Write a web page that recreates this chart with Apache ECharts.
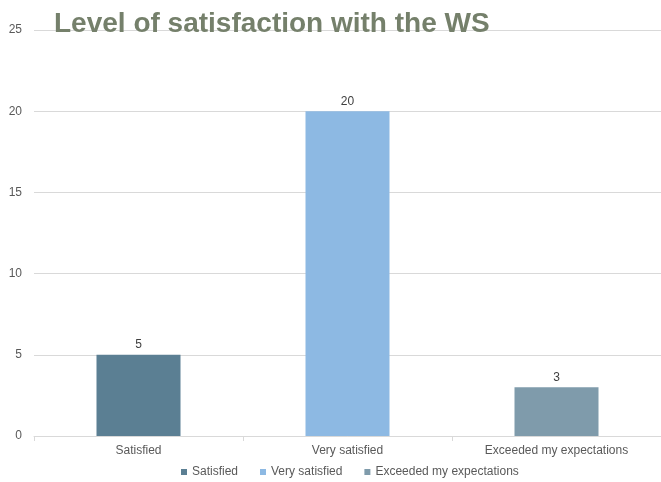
<!DOCTYPE html>
<html>
<head>
<meta charset="utf-8">
<script src="https://cdn.jsdelivr.net/npm/echarts@6/dist/echarts.min.js"></script>
<style>
  html, body { margin: 0; padding: 0; background: #fff; }
  #chart { width: 661px; height: 482px; }
</style>
</head>
<body>
<div id="chart"></div>
<script>
// chart data
var categories = ['Satisfied', 'Very satisfied', 'Exceeded my expectations'];
var counts = [5, 20, 3];
var colors = ['#5b7f93', '#8db9e3', '#7f9bab'];
var yTicks = [0, 5, 10, 15, 20, 25];

var myChart = echarts.init(document.getElementById('chart'));

// one series per category so the legend gets one entry each
var series = categories.map(function (name, i) {
    var row = categories.map(function (c, j) { return j === i ? counts[i] : '-'; });
    return {
        name: name,
        type: 'bar',
        data: row,
        barWidth: 84,
        barGap: '-100%',
        itemStyle: { color: colors[i] },
        label: {
            show: true,
            position: 'top',
            distance: 4,
            color: '#404040',
            fontSize: 12,
            fontFamily: 'Liberation Sans'
        }
    };
});

var option = {
    backgroundColor: '#fff',
    animation: false,
    title: {
        text: 'Level of satisfaction with the WS',
        left: 49,
        top: 5,
        textStyle: {
            color: '#75806b',
            fontSize: 28,
            fontWeight: 'bold',
            fontFamily: 'Liberation Sans'
        }
    },
    legend: {
        bottom: -1,
        left: 176,
        icon: 'rect',
        itemWidth: 6,
        itemHeight: 6,
        itemGap: 22,
        textStyle: { color: '#595959', fontSize: 12, fontFamily: 'Liberation Sans' },
        data: categories
    },
    grid: {
        left: 34,
        right: -5,
        top: 30,
        bottom: 46,
        containLabel: false
    },
    xAxis: {
        type: 'category',
        data: categories,
        axisLine: { lineStyle: { color: '#d9d9d9' } },
        axisTick: { show: true, length: 5, lineStyle: { color: '#d9d9d9' } },
        axisLabel: { color: '#595959', fontSize: 12, margin: 9, fontFamily: 'Liberation Sans' }
    },
    yAxis: {
        type: 'value',
        min: yTicks[0],
        max: yTicks[yTicks.length - 1],
        interval: 5,
        axisLine: { show: false },
        axisTick: { show: false },
        splitLine: { lineStyle: { color: '#d9d9d9' } },
        axisLabel: { color: '#595959', fontSize: 12, margin: 12, fontFamily: 'Liberation Sans' }
    },
    series: series
};

myChart.setOption(option);
</script>
</body>
</html>
